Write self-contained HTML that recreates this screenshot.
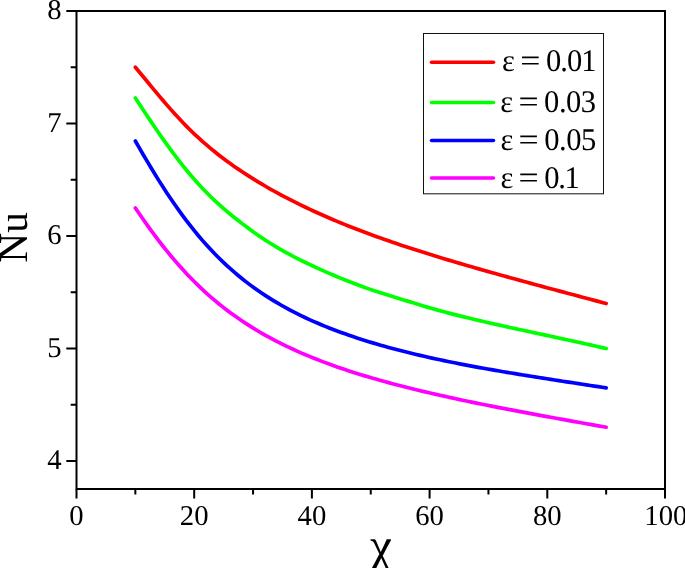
<!DOCTYPE html>
<html lang="en"><head><meta charset="utf-8"><title>Nu vs chi</title>
<style>
html,body{margin:0;padding:0;background:#fff;}
body{width:685px;height:568px;overflow:hidden;}
svg{display:block;}
text{text-rendering:geometricPrecision;font-family:"Liberation Serif","DejaVu Serif",serif;fill:#000;}
.tk{font-size:28.7px;}
.lg{font-size:30.6px;}
.ax{font-size:40px;}
</style></head><body>
<svg width="685" height="568" viewBox="0 0 685 568">
<rect x="0" y="0" width="685" height="568" fill="#ffffff"/>
<path d="M135.35,67.25 L139.31,71.95 L143.26,76.72 L147.22,81.53 L151.18,86.33 L155.13,91.12 L159.09,95.86 L163.04,100.54 L167.00,105.14 L170.96,109.65 L174.91,114.06 L178.87,118.36 L182.83,122.54 L186.78,126.59 L190.74,130.52 L194.69,134.31 L198.65,137.98 L202.61,141.53 L206.56,144.97 L210.52,148.30 L214.48,151.54 L218.43,154.68 L222.39,157.73 L226.34,160.69 L230.30,163.58 L234.26,166.39 L238.21,169.12 L242.17,171.79 L246.13,174.39 L250.08,176.93 L254.04,179.41 L258.00,181.83 L261.95,184.20 L265.91,186.52 L269.86,188.78 L273.82,191.00 L277.78,193.17 L281.73,195.30 L285.69,197.39 L289.65,199.44 L293.60,201.44 L297.56,203.42 L301.51,205.35 L305.47,207.25 L309.43,209.12 L313.38,210.96 L317.34,212.76 L321.30,214.54 L325.25,216.28 L329.21,218.00 L333.17,219.69 L337.12,221.35 L341.08,222.99 L345.03,224.60 L348.99,226.18 L352.95,227.75 L356.90,229.29 L360.86,230.81 L364.82,232.30 L368.77,233.78 L372.73,235.23 L376.68,236.67 L380.64,238.08 L384.60,239.48 L388.55,240.86 L392.51,242.22 L396.47,243.57 L400.42,244.90 L404.38,246.21 L408.33,247.52 L412.29,248.80 L416.25,250.08 L420.20,251.34 L424.16,252.59 L428.12,253.83 L432.07,255.06 L436.03,256.28 L439.99,257.48 L443.94,258.68 L447.90,259.87 L451.85,261.05 L455.81,262.23 L459.77,263.39 L463.72,264.55 L467.68,265.70 L471.64,266.84 L475.59,267.98 L479.55,269.11 L483.50,270.24 L487.46,271.36 L491.42,272.47 L495.37,273.58 L499.33,274.69 L503.29,275.79 L507.24,276.88 L511.20,277.98 L515.16,279.06 L519.11,280.15 L523.07,281.23 L527.02,282.31 L530.98,283.39 L534.94,284.46 L538.89,285.53 L542.85,286.60 L546.81,287.67 L550.76,288.73 L554.72,289.79 L558.67,290.86 L562.63,291.91 L566.59,292.97 L570.54,294.03 L574.50,295.08 L578.46,296.14 L582.41,297.19 L586.37,298.25 L590.32,299.30 L594.28,300.35 L598.24,301.40 L602.19,302.45 L606.15,303.50" fill="none" stroke="#ff0000" stroke-width="3.7" stroke-linecap="round" stroke-linejoin="round"/>
<path d="M135.35,98.00 L139.31,103.99 L143.26,109.98 L147.22,115.94 L151.18,121.86 L155.13,127.70 L159.09,133.46 L163.04,139.12 L167.00,144.67 L170.96,150.10 L174.91,155.40 L178.87,160.56 L182.83,165.59 L186.78,170.46 L190.74,175.19 L194.69,179.76 L198.65,184.18 L202.61,188.45 L206.56,192.56 L210.52,196.51 L214.48,200.31 L218.43,203.97 L222.39,207.50 L226.34,210.92 L230.30,214.23 L234.26,217.44 L238.21,220.57 L242.17,223.62 L246.13,226.60 L250.08,229.52 L254.04,232.38 L258.00,235.17 L261.95,237.88 L265.91,240.49 L269.86,243.01 L273.82,245.45 L277.78,247.80 L281.73,250.08 L285.69,252.29 L289.65,254.45 L293.60,256.54 L297.56,258.58 L301.51,260.57 L305.47,262.52 L309.43,264.42 L313.38,266.28 L317.34,268.11 L321.30,269.89 L325.25,271.65 L329.21,273.37 L333.17,275.07 L337.12,276.73 L341.08,278.37 L345.03,279.97 L348.99,281.54 L352.95,283.07 L356.90,284.58 L360.86,286.04 L364.82,287.47 L368.77,288.87 L372.73,290.23 L376.68,291.55 L380.64,292.83 L384.60,294.08 L388.55,295.30 L392.51,296.52 L396.47,297.72 L400.42,298.93 L404.38,300.15 L408.33,301.38 L412.29,302.60 L416.25,303.82 L420.20,305.02 L424.16,306.21 L428.12,307.37 L432.07,308.52 L436.03,309.63 L439.99,310.73 L443.94,311.80 L447.90,312.84 L451.85,313.87 L455.81,314.88 L459.77,315.88 L463.72,316.86 L467.68,317.82 L471.64,318.77 L475.59,319.71 L479.55,320.63 L483.50,321.55 L487.46,322.45 L491.42,323.35 L495.37,324.24 L499.33,325.12 L503.29,326.00 L507.24,326.87 L511.20,327.73 L515.16,328.60 L519.11,329.45 L523.07,330.31 L527.02,331.16 L530.98,332.02 L534.94,332.87 L538.89,333.72 L542.85,334.57 L546.81,335.42 L550.76,336.27 L554.72,337.12 L558.67,337.98 L562.63,338.83 L566.59,339.69 L570.54,340.56 L574.50,341.42 L578.46,342.29 L582.41,343.16 L586.37,344.04 L590.32,344.92 L594.28,345.81 L598.24,346.70 L602.19,347.60 L606.15,348.50" fill="none" stroke="#00ff00" stroke-width="3.7" stroke-linecap="round" stroke-linejoin="round"/>
<path d="M135.35,141.00 L139.31,147.89 L143.26,154.71 L147.22,161.43 L151.18,168.04 L155.13,174.52 L159.09,180.87 L163.04,187.08 L167.00,193.14 L170.96,199.05 L174.91,204.81 L178.87,210.40 L182.83,215.83 L186.78,221.11 L190.74,226.22 L194.69,231.16 L198.65,235.95 L202.61,240.58 L206.56,245.04 L210.52,249.35 L214.48,253.51 L218.43,257.51 L222.39,261.37 L226.34,265.10 L230.30,268.69 L234.26,272.16 L238.21,275.50 L242.17,278.73 L246.13,281.84 L250.08,284.85 L254.04,287.75 L258.00,290.56 L261.95,293.26 L265.91,295.88 L269.86,298.40 L273.82,300.85 L277.78,303.21 L281.73,305.49 L285.69,307.70 L289.65,309.84 L293.60,311.91 L297.56,313.91 L301.51,315.85 L305.47,317.74 L309.43,319.56 L313.38,321.33 L317.34,323.06 L321.30,324.73 L325.25,326.36 L329.21,327.94 L333.17,329.48 L337.12,330.98 L341.08,332.44 L345.03,333.86 L348.99,335.24 L352.95,336.60 L356.90,337.91 L360.86,339.20 L364.82,340.46 L368.77,341.68 L372.73,342.88 L376.68,344.05 L380.64,345.20 L384.60,346.31 L388.55,347.41 L392.51,348.48 L396.47,349.53 L400.42,350.56 L404.38,351.56 L408.33,352.55 L412.29,353.52 L416.25,354.47 L420.20,355.40 L424.16,356.31 L428.12,357.20 L432.07,358.08 L436.03,358.95 L439.99,359.80 L443.94,360.63 L447.90,361.45 L451.85,362.26 L455.81,363.05 L459.77,363.83 L463.72,364.60 L467.68,365.36 L471.64,366.11 L475.59,366.84 L479.55,367.57 L483.50,368.28 L487.46,368.98 L491.42,369.68 L495.37,370.37 L499.33,371.05 L503.29,371.72 L507.24,372.38 L511.20,373.04 L515.16,373.69 L519.11,374.34 L523.07,374.98 L527.02,375.62 L530.98,376.25 L534.94,376.88 L538.89,377.51 L542.85,378.13 L546.81,378.75 L550.76,379.37 L554.72,379.98 L558.67,380.60 L562.63,381.21 L566.59,381.82 L570.54,382.43 L574.50,383.04 L578.46,383.64 L582.41,384.25 L586.37,384.86 L590.32,385.46 L594.28,386.07 L598.24,386.68 L602.19,387.29 L606.15,387.90" fill="none" stroke="#0000ff" stroke-width="3.7" stroke-linecap="round" stroke-linejoin="round"/>
<path d="M135.35,208.00 L139.31,213.83 L143.26,219.54 L147.22,225.14 L151.18,230.61 L155.13,235.95 L159.09,241.16 L163.04,246.24 L167.00,251.18 L170.96,255.99 L174.91,260.67 L178.87,265.21 L182.83,269.61 L186.78,273.89 L190.74,278.03 L194.69,282.04 L198.65,285.92 L202.61,289.68 L206.56,293.31 L210.52,296.82 L214.48,300.21 L218.43,303.49 L222.39,306.65 L226.34,309.71 L230.30,312.68 L234.26,315.54 L238.21,318.32 L242.17,321.01 L246.13,323.62 L250.08,326.15 L254.04,328.60 L258.00,330.98 L261.95,333.28 L265.91,335.53 L269.86,337.70 L273.82,339.82 L277.78,341.87 L281.73,343.87 L285.69,345.81 L289.65,347.70 L293.60,349.54 L297.56,351.33 L301.51,353.07 L305.47,354.76 L309.43,356.41 L313.38,358.02 L317.34,359.59 L321.30,361.12 L325.25,362.62 L329.21,364.08 L333.17,365.50 L337.12,366.90 L341.08,368.26 L345.03,369.59 L348.99,370.90 L352.95,372.18 L356.90,373.43 L360.86,374.66 L364.82,375.86 L368.77,377.05 L372.73,378.21 L376.68,379.34 L380.64,380.46 L384.60,381.56 L388.55,382.64 L392.51,383.70 L396.47,384.75 L400.42,385.78 L404.38,386.79 L408.33,387.79 L412.29,388.77 L416.25,389.74 L420.20,390.70 L424.16,391.64 L428.12,392.57 L432.07,393.49 L436.03,394.39 L439.99,395.29 L443.94,396.17 L447.90,397.05 L451.85,397.91 L455.81,398.77 L459.77,399.61 L463.72,400.45 L467.68,401.28 L471.64,402.10 L475.59,402.91 L479.55,403.72 L483.50,404.51 L487.46,405.30 L491.42,406.09 L495.37,406.87 L499.33,407.64 L503.29,408.40 L507.24,409.17 L511.20,409.92 L515.16,410.67 L519.11,411.42 L523.07,412.17 L527.02,412.91 L530.98,413.64 L534.94,414.38 L538.89,415.11 L542.85,415.83 L546.81,416.56 L550.76,417.28 L554.72,418.00 L558.67,418.72 L562.63,419.44 L566.59,420.15 L570.54,420.86 L574.50,421.58 L578.46,422.29 L582.41,423.00 L586.37,423.71 L590.32,424.42 L594.28,425.13 L598.24,425.83 L602.19,426.54 L606.15,427.25" fill="none" stroke="#ff00ff" stroke-width="3.7" stroke-linecap="round" stroke-linejoin="round"/>
<rect x="76.5" y="11.0" width="588.5" height="478.0" fill="none" stroke="#000" stroke-width="2"/>
<path d="M76.50,489.0 V498.5 M135.35,489.0 V494.4 M194.20,489.0 V498.5 M253.05,489.0 V494.4 M311.90,489.0 V498.5 M370.75,489.0 V494.4 M429.60,489.0 V498.5 M488.45,489.0 V494.4 M547.30,489.0 V498.5 M606.15,489.0 V494.4 M665.00,489.0 V498.5 M76.5,461.00 H66.3 M76.5,404.75 H70.7 M76.5,348.50 H66.3 M76.5,292.25 H70.7 M76.5,236.00 H66.3 M76.5,179.75 H70.7 M76.5,123.50 H66.3 M76.5,67.25 H70.7 M76.5,11.00 H66.3 " fill="none" stroke="#000" stroke-width="2"/>
<text class="tk" x="76.50" y="525.2" text-anchor="middle">0</text>
<text class="tk" x="194.20" y="525.2" text-anchor="middle">20</text>
<text class="tk" x="311.90" y="525.2" text-anchor="middle">40</text>
<text class="tk" x="429.60" y="525.2" text-anchor="middle">60</text>
<text class="tk" x="547.30" y="525.2" text-anchor="middle">80</text>
<text class="tk" x="665.80" y="525.2" text-anchor="middle">100</text>
<text class="tk" x="54.3" y="469.30" text-anchor="middle">4</text>
<text class="tk" x="54.3" y="356.80" text-anchor="middle">5</text>
<text class="tk" x="54.3" y="244.30" text-anchor="middle">6</text>
<text class="tk" x="54.3" y="131.80" text-anchor="middle">7</text>
<text class="tk" x="54.3" y="19.30" text-anchor="middle">8</text>
<text style="font-size:41.5px" transform="translate(26.8,262.8) rotate(-90)">Nu</text>
<text style="font-size:49.5px" x="381.1" y="561.6" text-anchor="middle">χ</text>
<rect x="423.5" y="33.5" width="180" height="160.3" fill="#fff" stroke="#111" stroke-width="1"/>
<path d="M431.5,62.2 H493.5" stroke="#ff0000" stroke-width="3.5" stroke-linecap="round" fill="none"/>
<text class="lg" transform="translate(0,71.1) scale(1,1.03)"><tspan x="502.1">ε</tspan> <tspan x="520.25" textLength="20.19" lengthAdjust="spacingAndGlyphs">=</tspan> <tspan x="545.9" style="letter-spacing:-0.97px">0.01</tspan></text>
<path d="M431.5,102.5 H493.5" stroke="#00ff00" stroke-width="3.5" stroke-linecap="round" fill="none"/>
<text class="lg" transform="translate(0,111.9) scale(1,1.03)"><tspan x="500.3">ε</tspan> <tspan x="518.45" textLength="20.19" lengthAdjust="spacingAndGlyphs">=</tspan> <tspan x="544.1" style="letter-spacing:-0.5px">0.03</tspan></text>
<path d="M431.5,140.5 H493.5" stroke="#0000ff" stroke-width="3.5" stroke-linecap="round" fill="none"/>
<text class="lg" transform="translate(0,150.0) scale(1,1.03)"><tspan x="500.4">ε</tspan> <tspan x="518.54" textLength="20.19" lengthAdjust="spacingAndGlyphs">=</tspan> <tspan x="544.2" style="letter-spacing:-0.5px">0.05</tspan></text>
<path d="M431.5,178.1 H493.5" stroke="#ff00ff" stroke-width="3.5" stroke-linecap="round" fill="none"/>
<text class="lg" transform="translate(0,187.6) scale(1,1.03)"><tspan x="500.4">ε</tspan> <tspan x="518.54" textLength="20.19" lengthAdjust="spacingAndGlyphs">=</tspan> <tspan x="544.2" style="letter-spacing:-1.3px">0.1</tspan></text>
</svg>
</body></html>
